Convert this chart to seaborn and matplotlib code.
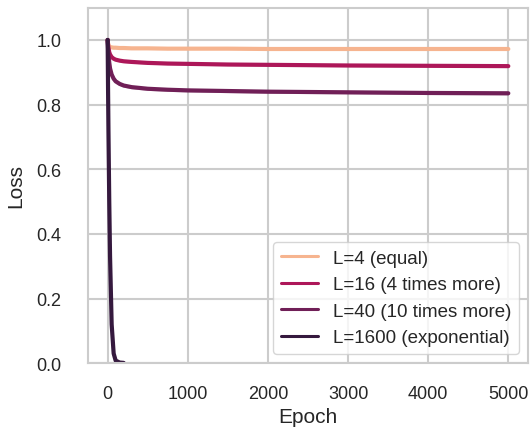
import matplotlib
matplotlib.use("Agg")
import matplotlib.pyplot as plt
import numpy as np
import pandas as pd
import seaborn as sns

# Training epochs at which the loss was logged
epochs = [0, 5, 10, 20, 30, 50, 75, 100, 150, 200, 300, 500, 750, 1000, 1500, 2000, 3000, 4000, 5000]

# Mean loss per configuration
loss_L4 = [1.0, 0.990, 0.985, 0.980, 0.978, 0.977, 0.976, 0.976, 0.975, 0.975, 0.974, 0.974, 0.973,
           0.973, 0.973, 0.972, 0.972, 0.972, 0.972]
loss_L16 = [1.0, 0.985, 0.975, 0.962, 0.955, 0.947, 0.942, 0.939, 0.936, 0.934, 0.932, 0.929, 0.927,
            0.926, 0.924, 0.923, 0.921, 0.920, 0.919]
loss_L40 = [1.0, 0.975, 0.955, 0.930, 0.912, 0.893, 0.880, 0.872, 0.864, 0.859, 0.854, 0.849, 0.846,
            0.844, 0.842, 0.840, 0.838, 0.836, 0.835]
# The exponential run converges within a couple hundred epochs
epochs_L1600 = [0, 5, 10, 20, 30, 50, 75, 100, 150, 200]
loss_L1600 = [1.0, 0.85, 0.72, 0.50, 0.33, 0.12, 0.03, 0.008, 0.002, 0.001]

labels = ["L=4 (equal)", "L=16 (4 times more)", "L=40 (10 times more)", "L=1600 (exponential)"]
colors = ["#f6b48f", "#ad1759", "#701f57", "#35193e"]

# Half-width of the spread across seeds
spread = [0.002, 0.004, 0.005, 0.003]

frames = []
for lab, ep, ls in zip(labels,
                       [epochs, epochs, epochs, epochs_L1600],
                       [loss_L4, loss_L16, loss_L40, loss_L1600]):
    frames.append(pd.DataFrame({"Epoch": ep, "Loss": ls, "run": lab}))
df = pd.concat(frames, ignore_index=True)

sns.set_theme(style="whitegrid", context="notebook",
              rc={"grid.linewidth": 1.5, "axes.linewidth": 1.5,
                  "grid.color": "#cccccc", "axes.edgecolor": "#cccccc"})
plt.rcParams["font.family"] = ["Liberation Sans", "DejaVu Sans"]

fig, ax = plt.subplots(figsize=(5.31, 4.31), dpi=100)

for lab, col, sp in zip(labels, colors, spread):
    sub = df[df["run"] == lab]
    x = sub["Epoch"].to_numpy()
    y = sub["Loss"].to_numpy()
    ax.fill_between(x, y - sp, y + sp, color=col, alpha=0.35, lw=0)

sns.lineplot(data=df, x="Epoch", y="Loss", hue="run", hue_order=labels,
             palette=colors, linewidth=3.0, ax=ax, errorbar=None)

ax.set_ylim(0, 1.1)
ax.set_xlim(-250, 5250)
ax.set_xticks([0, 1000, 2000, 3000, 4000, 5000])
ax.set_yticks([0.0, 0.2, 0.4, 0.6, 0.8, 1.0])
ax.tick_params(axis="x", labelsize=13, pad=10)
ax.tick_params(axis="y", labelsize=13, pad=13)
ax.set_xlabel("Epoch", fontsize=15, labelpad=3)
ax.set_ylabel("Loss", fontsize=15, labelpad=8)

leg = ax.legend(loc="lower right", fontsize=13.5, title=None, handlelength=2.0)
for h in leg.get_lines():
    h.set_linewidth(2.2)

fig.subplots_adjust(left=0.165, right=0.995, top=0.98, bottom=0.155)
fig.savefig("out.png", dpi=100)
